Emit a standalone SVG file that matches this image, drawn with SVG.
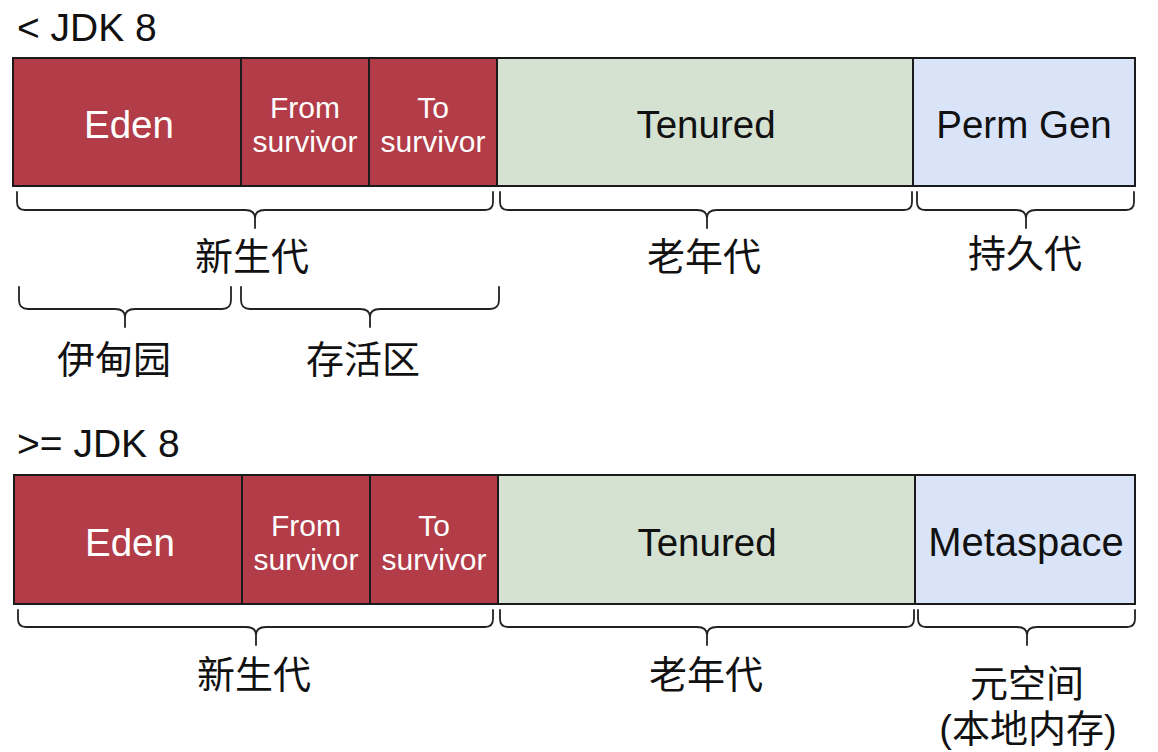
<svg xmlns="http://www.w3.org/2000/svg" width="1158" height="752" viewBox="0 0 1158 752">
<style>
.red{fill:#B23C47;stroke:#1a1a1a;stroke-width:2}
.green{fill:#D5E2D2;stroke:#1a1a1a;stroke-width:2}
.blue{fill:#D9E4F8;stroke:#1a1a1a;stroke-width:2}
.lbl{font-family:"Liberation Sans","Noto Sans",Arial,sans-serif;text-anchor:middle}
.big{font-size:38.5px}
.meta{font-size:40px}
.small{font-size:30px}
.w{fill:#ffffff}
.k{fill:#111111}
.title{font-family:"Liberation Sans",Arial,sans-serif;font-size:39px;fill:#111}
.cn{font-family:"Liberation Sans","Noto Sans CJK SC",sans-serif;font-size:38px;fill:#111;text-anchor:middle}
.brace{fill:none;stroke:#222;stroke-width:1.8;stroke-linecap:round;stroke-linejoin:round}
</style>
<rect width="1158" height="752" fill="#ffffff"/>

<text class="title" x="17" y="41">&lt; JDK 8</text>
<text class="title" x="17" y="457">&gt;= JDK 8</text>

<!-- Top row (< JDK 8) -->
<g id="top-eden"><rect class="red" x="13" y="58" width="228" height="128"/><text class="lbl big w" x="129" y="138">Eden</text></g>
<g id="top-from"><rect class="red" x="241" y="58" width="128" height="128"/><text class="lbl small w" x="305" y="118">From</text><text class="lbl small w" x="305" y="152">survivor</text></g>
<g id="top-to"><rect class="red" x="369" y="58" width="128" height="128"/><text class="lbl small w" x="433" y="118">To</text><text class="lbl small w" x="433" y="152">survivor</text></g>
<g id="top-tenured"><rect class="green" x="497" y="58" width="416" height="128"/><text class="lbl big k" x="706" y="138">Tenured</text></g>
<g id="top-perm"><rect class="blue" x="913" y="58" width="222" height="128"/><text class="lbl big k" x="1024" y="138">Perm Gen</text></g>

<!-- Bottom row (>= JDK 8) -->
<g id="bot-eden"><rect class="red" x="14" y="475" width="228" height="129"/><text class="lbl big w" x="130" y="556">Eden</text></g>
<g id="bot-from"><rect class="red" x="242" y="475" width="128" height="129"/><text class="lbl small w" x="306" y="536">From</text><text class="lbl small w" x="306" y="570">survivor</text></g>
<g id="bot-to"><rect class="red" x="370" y="475" width="128" height="129"/><text class="lbl small w" x="434" y="536">To</text><text class="lbl small w" x="434" y="570">survivor</text></g>
<g id="bot-tenured"><rect class="green" x="498" y="475" width="417" height="129"/><text class="lbl big k" x="707" y="556">Tenured</text></g>
<g id="bot-meta"><rect class="blue" x="915" y="475" width="220" height="129"/><text class="lbl meta k" x="1026" y="556">Metaspace</text></g>

<g id="connectors">
<path class="brace" d="M17,192 V202 Q17,210 25,210 H245 Q255,210 255,218 V228 M255,218 Q255,210 265,210 H485 Q493,210 493,202 V192"/>
<path class="brace" d="M500,192 V202 Q500,210 508,210 H697 Q707,210 707,218 V228 M707,218 Q707,210 717,210 H904 Q912,210 912,202 V192"/>
<path class="brace" d="M917,192 V202 Q917,210 925,210 H1016 Q1026,210 1026,218 V228 M1026,218 Q1026,210 1036,210 H1126 Q1134,210 1134,202 V192"/>
<path class="brace" d="M19,287 V300 Q19,309 28,309 H115 Q125,309 125,317 V327 M125,317 Q125,309 135,309 H222 Q231,309 231,300 V287"/>
<path class="brace" d="M241,287 V300 Q241,309 250,309 H360 Q370,309 370,317 V327 M370,317 Q370,309 380,309 H490 Q499,309 499,300 V287"/>
<path class="brace" d="M18,610 V619 Q18,627 26,627 H246 Q256,627 256,635 V645 M256,635 Q256,627 266,627 H485 Q493,627 493,619 V610"/>
<path class="brace" d="M500,610 V619 Q500,627 508,627 H697 Q707,627 707,635 V645 M707,635 Q707,627 717,627 H906 Q914,627 914,619 V610"/>
<path class="brace" d="M918,610 V619 Q918,627 926,627 H1017 Q1027,627 1027,635 V645 M1027,635 Q1027,627 1037,627 H1127 Q1135,627 1135,619 V610"/>
</g>

<g id="labels">
<text class="cn" x="252" y="270">新生代</text>
<text class="cn" x="704" y="270">老年代</text>
<text class="cn" x="1025" y="267">持久代</text>
<text class="cn" x="114" y="373">伊甸园</text>
<text class="cn" x="363" y="373">存活区</text>
<text class="cn" x="254" y="688">新生代</text>
<text class="cn" x="706" y="688">老年代</text>
<text class="cn" x="1027" y="697">元空间</text>
<text class="cn" x="1028" y="742">(本地内存)</text>
</g>
</svg>
